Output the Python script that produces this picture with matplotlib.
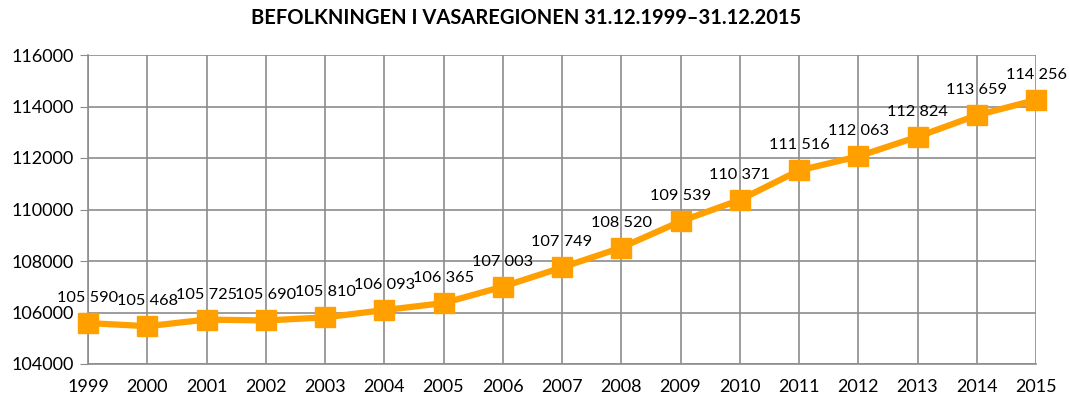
import matplotlib
matplotlib.use("Agg")
import matplotlib.pyplot as plt

years = list(range(1999, 2016))
population = [105590, 105468, 105725, 105690, 105810, 106093, 106365, 107003,
              107749, 108520, 109539, 110371, 111516, 112063, 112824, 113659, 114256]
yticks = [104000, 106000, 108000, 110000, 112000, 114000, 116000]
title = "BEFOLKNINGEN I VASAREGIONEN 31.12.1999–31.12.2015"

plt.rcParams['font.family'] = ['Lato', 'DejaVu Sans']
fig = plt.figure(figsize=(10.69, 4.03), dpi=100)
ax = fig.add_axes([88/1069, 1-364/403, (1036-88)/1069, (364-55)/403])

color = '#FFA000'
ax.plot(years, population, color=color, lw=4.5, marker='s', markersize=14,
        markeredgecolor=color, zorder=3, clip_on=False)
for x, y in zip(years, population):
    s = f"{y:,}".replace(",", " ")
    ax.annotate(s, (x, y), xytext=(0, 13), textcoords='offset points',
                ha='center', va='bottom', fontsize=11.8, color='black')

ax.set_xlim(1999, 2015)
ax.set_ylim(104000, 116000)
ax.set_xticks(years)
ax.set_xticklabels([str(y) for y in years])
ax.set_yticks(yticks)
ax.set_yticklabels([str(v) for v in yticks])
ax.grid(True, color='#8c8c8c', lw=1.2)
ax.set_axisbelow(True)
for sp in ['top', 'right']:
    ax.spines[sp].set_visible(False)
for sp in ['left', 'bottom']:
    ax.spines[sp].set_color('#8c8c8c')
    ax.spines[sp].set_linewidth(1.2)
ax.tick_params(axis='y', length=6, color='#8c8c8c', labelsize=13, pad=4)
ax.tick_params(axis='x', length=0, labelsize=13, pad=11)

fig.text(526/1069, 1-18/403, title, ha='center', va='center',
         fontsize=14.5, fontweight='bold')

fig.savefig("out.png", dpi=100)
